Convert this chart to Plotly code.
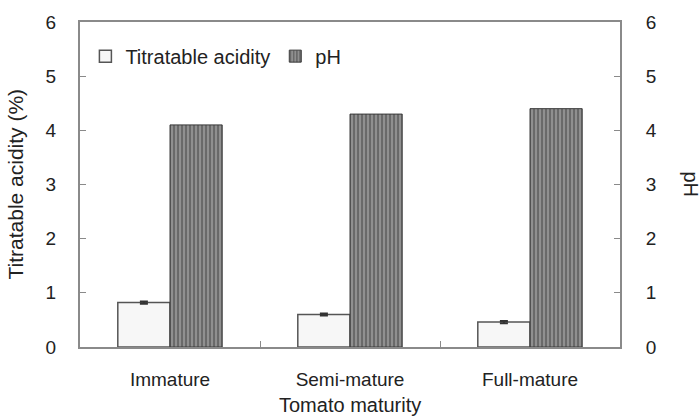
import plotly.graph_objects as go

categories = ["Immature", "Semi-mature", "Full-mature"]
titratable_acidity = [0.82, 0.60, 0.46]
ta_error = [0.02, 0.02, 0.02]
ph_values = [4.1, 4.3, 4.4]
tick_vals = [0, 1, 2, 3, 4, 5, 6]

FONT = "Liberation Sans, Arial, sans-serif"
AX = "#8a8a8a"

fig = go.Figure()
fig.add_trace(go.Bar(
    x=categories, y=titratable_acidity, name="Titratable acidity",
    width=0.29, offset=-0.29,
    marker=dict(color="#f7f7f7", line=dict(color="#555555", width=1.5)),
    error_y=dict(type="data", array=ta_error, color="#333333", thickness=2, width=4),
    yaxis="y",
))
fig.add_trace(go.Bar(
    x=categories, y=ph_values, name="pH",
    width=0.29, offset=0.0,
    marker=dict(color="#808080", line=dict(color="#3a3a3a", width=1),
                pattern=dict(shape="|", fgcolor="#3a3a3a", bgcolor="#909090", size=4, solidity=0.45)),
    yaxis="y2",
))

fig.update_layout(
    width=700, height=420,
    margin=dict(l=80, r=80, t=17, b=73),
    paper_bgcolor="white", plot_bgcolor="white",
    font=dict(family=FONT, size=19, color="#222222"),
    barmode="overlay",
    showlegend=True,
    legend=dict(orientation="h", x=0.01, y=0.955, xanchor="left", yanchor="top",
                bgcolor="rgba(0,0,0,0)", font=dict(size=20), itemwidth=30,
                traceorder="normal"),
    xaxis=dict(
        categoryorder="array", categoryarray=categories,
        showline=True, linecolor=AX, linewidth=2, mirror=True,
        ticks="inside", tickson="boundaries", ticklen=6, tickcolor=AX,
        ticklabelstandoff=14, tickfont=dict(size=19),
        showgrid=False, zeroline=False,
    ),
    yaxis=dict(
        range=[0, 6], tickvals=tick_vals,
        showline=True, linecolor=AX, linewidth=2, mirror=False,
        ticks="inside", ticklen=6, tickcolor=AX,
        ticklabelstandoff=18, tickfont=dict(size=19),
        showgrid=False, zeroline=False,
    ),
    yaxis2=dict(
        range=[0, 6], tickvals=tick_vals, overlaying="y", side="right",
        showline=True, linecolor=AX, linewidth=2,
        ticks="inside", ticklen=6, tickcolor=AX,
        ticklabelstandoff=20, tickfont=dict(size=19),
        showgrid=False, zeroline=False,
    ),
    annotations=[
        dict(text="Titratable acidity (%)", xref="paper", yref="paper", x=0.0, y=0.5,
             xanchor="center", yanchor="middle", xshift=-65, showarrow=False,
             textangle=-90, font=dict(size=21)),
        dict(text="pH", xref="paper", yref="paper", x=1.0, y=0.5,
             xanchor="center", yanchor="middle", xshift=71, showarrow=False,
             textangle=90, font=dict(size=20)),
        dict(text="Tomato maturity", xref="paper", yref="paper", x=0.5, y=0.0,
             xanchor="center", yanchor="middle", yshift=-58, showarrow=False,
             font=dict(size=20)),
    ],
)

fig.write_html("out.html")
